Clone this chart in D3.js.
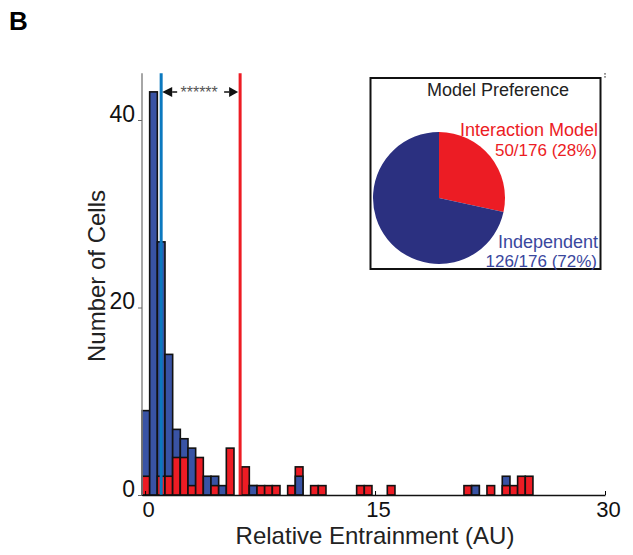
<!DOCTYPE html>
<html>
<head>
<meta charset="utf-8">
<script src="https://cdn.jsdelivr.net/npm/d3@7"></script>
<style>
body { margin: 0; background: #fff; }
text { font-family: "Liberation Sans", Arial, sans-serif; }
</style>
</head>
<body>
<svg id="svg"></svg>
<script>
var width = 633, height = 555;

// histogram bins (left edge, AU) and counts for each model
var binLeft = [-0.2, 0.3, 0.8, 1.3, 1.8, 2.3, 2.8, 3.3, 3.8, 4.3, 4.8, 5.3, 6.3, 6.8, 7.3, 7.8,
	8.3, 9.3, 9.8, 10.8, 11.3, 13.8, 14.3, 15.8, 20.8, 21.3, 22.3, 23.3, 23.8, 24.3, 24.8];
var independentCounts = [9, 43, 27, 15, 7, 6, 5, 0, 2, 2, 1, 0, 0, 1, 0, 0,
	0, 0, 2, 0, 0, 0, 0, 0, 0, 1, 0, 2, 0, 0, 0];
var interactionCounts = [2, 0, 2, 2, 4, 4, 1, 4, 0, 1, 0, 5, 3, 1, 1, 1,
	1, 1, 3, 1, 1, 1, 1, 1, 1, 1, 1, 1, 1, 2, 2];
var binWidth = 0.5;
var medians = [1.05, 6.2]; // independent, interaction
var xTicks = [0, 15, 30];
var yTicks = [0, 20, 40];
var pieLabels = ["Interaction Model", "Independent"];
var pieCounts = [50, 126];
var pieText = ["50/176 (28%)", "126/176 (72%)"];

var blueFill = "#3953a4", redFill = "#ed1c24";

var svg = d3.select("#svg")
	.attr("width", width)
	.attr("height", height);

var x = d3.scaleLinear().domain([-0.2, 30]).range([142, 605]);
var y = d3.scaleLinear().domain([0, 40]).range([495, 120]);

// panel letter
svg.append("text")
	.attr("x", 9)
	.attr("y", 30)
	.style("font-size", "26px")
	.style("font-weight", "bold")
	.text("B");

// bars: in each bin the taller bar sits behind, the shorter in front
var bins = binLeft.map(function(d, i) {
	var b = {x0: d, n: independentCounts[i], color: blueFill};
	var r = {x0: d, n: interactionCounts[i], color: redFill};
	return b.n > r.n ? [b, r] : [r, b];
});
var bar = svg.append("g").selectAll("g")
	.data(bins)
	.enter()
	.append("g");
bar.selectAll("rect")
	.data(function(d) { return d.filter(function(e) { return e.n > 0; }); })
	.enter()
	.append("rect")
	.attr("x", function(d) { return x(d.x0); })
	.attr("width", function(d) { return x(d.x0 + binWidth) - x(d.x0); })
	.attr("y", function(d) { return y(d.n); })
	.attr("height", function(d) { return y(0) - y(d.n); })
	.style("fill", function(d) { return d.color; })
	.style("stroke", "#111")
	.style("stroke-width", 1.6);

// median lines
svg.selectAll(".median")
	.data(medians)
	.enter()
	.append("line")
	.attr("x1", function(d) { return x(d); })
	.attr("x2", function(d) { return x(d); })
	.attr("y1", y(45))
	.attr("y2", y(0))
	.style("stroke", function(d, i) { return i == 0 ? "#0b79bf" : "#ed1c24"; })
	.style("stroke-width", 3);

// axes
var xAxis = d3.axisBottom(x)
	.tickValues(xTicks)
	.tickSizeInner(-4)
	.tickSizeOuter(0)
	.tickPadding(6);
var gx = svg.append("g")
	.attr("transform", "translate(0," + y(0) + ")")
	.call(xAxis);
gx.select(".domain").style("stroke", "#111").style("stroke-width", 1.5);
gx.selectAll("text").style("font-size", "22px").style("fill", "#111").attr("dx", 3);

var yAxis = d3.axisLeft(y)
	.tickValues(yTicks)
	.tickSizeInner(4)
	.tickSizeOuter(0)
	.tickPadding(3);
var gy = svg.append("g")
	.attr("transform", "translate(142,0)")
	.call(yAxis);
gy.select(".domain").attr("d", "M0," + y(0) + "V" + y(45))
	.style("stroke", "#888").style("stroke-width", 1.5);
gy.selectAll(".tick line").style("stroke", "#666");
gy.selectAll("text").style("font-size", "23px").style("fill", "#111").attr("dy", "0.05em");

// corner tick at top right
svg.append("line")
	.attr("x1", x(30)).attr("x2", x(30))
	.attr("y1", y(45)).attr("y2", y(45) + 6)
	.style("stroke", "#111")
	.style("stroke-dasharray", "1.5,1.5");

svg.append("text")
	.attr("x", 375)
	.attr("y", 544)
	.style("text-anchor", "middle")
	.style("font-size", "24px")
	.style("fill", "#222")
	.text("Relative Entrainment (AU)");
svg.append("text")
	.attr("transform", "translate(105,276) rotate(-90)")
	.style("text-anchor", "middle")
	.style("font-size", "24px")
	.style("fill", "#222")
	.text("Number of Cells");

// significance arrow between medians
var ay = 92;
var ax0 = x(medians[0]) + 1, ax1 = x(medians[1]) - 2;
svg.append("path")
	.attr("d", "M" + ax0 + "," + ay + "L" + (ax0 + 10) + "," + (ay - 5) + "L" + (ax0 + 10) + "," + (ay + 5) + "Z")
	.style("fill", "#111");
svg.append("path")
	.attr("d", "M" + ax1 + "," + ay + "L" + (ax1 - 9) + "," + (ay - 5) + "L" + (ax1 - 9) + "," + (ay + 5) + "Z")
	.style("fill", "#111");
svg.append("line")
	.attr("x1", ax0 + 10).attr("x2", ax0 + 15).attr("y1", ay).attr("y2", ay)
	.style("stroke", "#111").style("stroke-width", 1.5);
svg.append("line")
	.attr("x1", ax1 - 14).attr("x2", ax1 - 9).attr("y1", ay).attr("y2", ay)
	.style("stroke", "#111").style("stroke-width", 1.5);
svg.append("text")
	.attr("x", (ax0 + ax1) / 2 - 1)
	.attr("y", 98)
	.style("text-anchor", "middle")
	.style("font-size", "16px")
	.style("fill", "#555")
	.text("******");

// inset pie
var inset = svg.append("g");
inset.append("rect")
	.attr("x", 370.5).attr("y", 78)
	.attr("width", 230).attr("height", 191)
	.style("fill", "#fff")
	.style("stroke", "#111")
	.style("stroke-width", 2);
inset.append("text")
	.attr("x", 498).attr("y", 96)
	.style("text-anchor", "middle")
	.style("font-size", "18px")
	.style("fill", "#222")
	.text("Model Preference");

var pie = d3.pie().sort(null);
var arc = d3.arc().innerRadius(0).outerRadius(66);
inset.append("g")
	.attr("transform", "translate(439,198)")
	.selectAll("path")
	.data(pie(pieCounts))
	.enter()
	.append("path")
	.attr("d", arc)
	.style("fill", function(d, i) { return i == 0 ? "#ec1c24" : "#2b3080"; });

var labelColor = ["#ec1c24", "#3a479e"];
var labelY = [[136, 156], [248, 267]];
pieLabels.forEach(function(l, i) {
	inset.append("text")
		.attr("x", 598).attr("y", labelY[i][0])
		.style("text-anchor", "end")
		.style("font-size", "18px")
		.style("fill", labelColor[i])
		.text(l);
	inset.append("text")
		.attr("x", 597).attr("y", labelY[i][1])
		.style("text-anchor", "end")
		.style("font-size", "17px")
		.style("fill", labelColor[i])
		.text(pieText[i]);
});
</script>
</body>
</html>
